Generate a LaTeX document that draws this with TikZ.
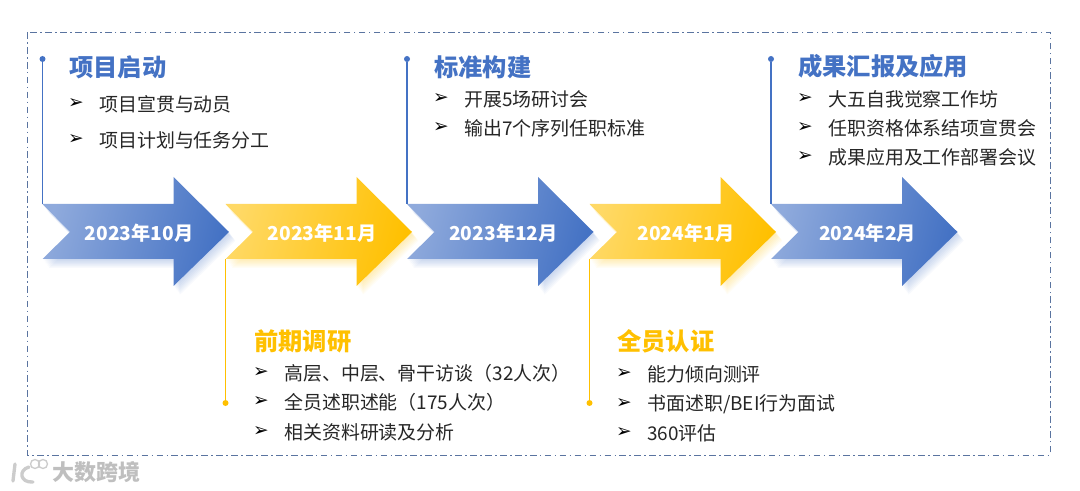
\documentclass[tikz,border=0pt]{standalone}
\usepackage{fontspec}
\setmainfont{Noto Sans CJK SC}
\newfontfamily\symfont{DejaVu Sans}
\usetikzlibrary{arrows.meta, calc, positioning}
\definecolor{stageblue}{HTML}{4472C4}
\definecolor{stageyellow}{HTML}{FFC000}
\definecolor{framecolor}{HTML}{5A74A0}
\definecolor{itemcolor}{HTML}{262626}

\begin{document}
\begin{tikzpicture}[
    x=0.75pt, y=-0.75pt,
    frameline/.style={framecolor, line width=0.7pt, dash pattern=on 5pt off 2.5pt on 1.2pt off 2.5pt},
    stagetitle/.style={anchor=west, inner sep=0pt, font=\fontsize{18.2}{20}\selectfont\bfseries},
    stageitem/.style={anchor=west, inner sep=0pt, text=itemcolor, font=\fontsize{14.2}{16}\selectfont},
    itemmark/.style={anchor=center, inner sep=0pt, text=black, font=\symfont\fontsize{14}{16}\selectfont},
    stagedate/.style={inner sep=0pt, text=white, font=\fontsize{14.4}{17}\selectfont\bfseries},
    stagedot/.style={circle, fill=#1, inner sep=0pt, minimum size=4.5pt},
    stageline/.style={#1, line width=1pt}
]
    \useasboundingbox (0,0) rectangle (1080,491);

    % --- Frame ---
    \draw[frameline] (27,32) rectangle (1050,455);

    % --- Arrows ---
    \foreach \x/\n/\col/\lite/\date in {
        42.5/1/stageblue/8FAADC/2023年10月,
        225.5/2/stageyellow/FFD966/2023年11月,
        407/3/stageblue/8FAADC/2023年12月,
        589.5/4/stageyellow/FFD966/2024年1月,
        771/5/stageblue/8FAADC/2024年2月} {
        \definecolor{litecolor}{HTML}{\lite}
        % soft shadow
        \foreach \d in {1,2,...,8} {
            \fill[\col, opacity=0.04, shift={(\x+\d*0.8,204+\d*1.1)}]
                (0,0) -- (131,0) -- (131,-27) -- (186.5,28) -- (131,82) -- (131,55) -- (0,55) -- (27.5,28) -- cycle;
        }
        \shade[left color=litecolor, right color=\col, shading angle=75, shift={(\x,204)}]
            (0,0) -- (131,0) -- (131,-27) -- (186.5,28) -- (131,82) -- (131,55) -- (0,55) -- (27.5,28) -- cycle;
        \coordinate (top\n) at (\x,204);
        \coordinate (low\n) at (\x,259);
        \node[stagedate] (date\n) at (\x+96.5,233) {\date};
    }

    % --- Leader lines ---
    \node[stagedot=stageblue] (dot1) at (42.5,59) {};
    \node[stagedot=stageyellow] (dot2) at (225.5,403) {};
    \node[stagedot=stageblue] (dot3) at (407,59) {};
    \node[stagedot=stageyellow] (dot4) at (589.5,403) {};
    \node[stagedot=stageblue] (dot5) at (771,59) {};
    \draw[stageline=stageblue] (dot1) -- (top1);
    \draw[stageline=stageyellow] (dot2) -- (low2);
    \draw[stageline=stageblue] (dot3) -- (top3);
    \draw[stageline=stageyellow] (dot4) -- (low4);
    \draw[stageline=stageblue] (dot5) -- (top5);

    % --- Titles ---
    \node[stagetitle, text=stageblue] (title1) at (69,67) {项目启动};
    \node[stagetitle, text=stageyellow] (title2) at (254,341) {前期调研};
    \node[stagetitle, text=stageblue] (title3) at (434,67) {标准构建};
    \node[stagetitle, text=stageyellow] (title4) at (617,341) {全员认证};
    \node[stagetitle, text=stageblue] (title5) at (798,66) {成果汇报及应用};

    % --- Items ---
    \foreach \x/\y/\n/\txt in {
        99/104/a/项目宣贯与动员,
        99/140/b/项目计划与任务分工,
        284/373/c/高层、中层、骨干访谈（32人次）,
        284/402/d/全员述职述能（175人次）,
        284/432/e/相关资料研读及分析,
        464/99/f/开展5场研讨会,
        464/128/g/输出7个序列任职标准,
        647/374/h/能力倾向测评,
        647/404/i/{书面述职/BEI行为面试},
        647/433/j/360评估,
        828/99/k/大五自我觉察工作坊,
        828/128/l/任职资格体系结项宣贯会,
        828/157/m/成果应用及工作部署会议} {
        \node[stageitem] (item\n) at (\x,\y) {\txt};
        \node[itemmark] (mark\n) at (\x-23,\y) {➢};
    }

    % --- Watermark ---
    \node[anchor=west, inner sep=0pt, text=black!25, font=\fontsize{16.5}{18}\selectfont\bfseries] (mark) at (52,472) {大数跨境};
    \draw[black!20, line width=2.5pt, line cap=round] (15,464) -- (13,481);
    \draw[black!20, line width=2.5pt, line cap=round] (29,467) .. controls (18,470) and (20,483) .. (33,482);
    \draw[black!20, line width=1pt] (35,464) circle (4.5) (43,464) circle (4.5);
\end{tikzpicture}
\end{document}
